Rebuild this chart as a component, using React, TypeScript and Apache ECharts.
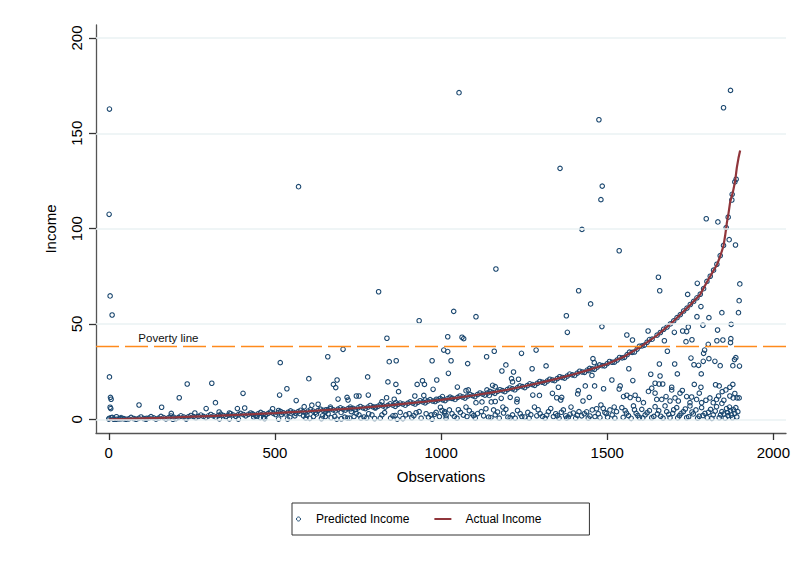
import React, { useEffect, useRef } from "react";
import * as echarts from "echarts";

// Sorted actual income by observation rank
const actualObs = [0, 50, 100, 150, 200, 250, 300, 350, 400, 450, 500, 550, 600, 650, 700, 750, 800, 850, 900, 950, 1000, 1050, 1100, 1150, 1200, 1250, 1300, 1350, 1400, 1450, 1500, 1550, 1600, 1650, 1700, 1750, 1780, 1800, 1815, 1830, 1840, 1850, 1855, 1860, 1865, 1870, 1878, 1885, 1890, 1895, 1900];
const actualIncome = [0, 0.2, 0.5, 0.7, 1.0, 1.35, 1.7, 2.05, 2.4, 2.8, 3.2, 3.7, 4.2, 4.75, 5.3, 5.9, 6.6, 7.4, 8.3, 9.2, 10.2, 11.4, 12.6, 14.0, 15.5, 17.3, 19.2, 21.3, 23.6, 26.2, 29.0, 32.8, 38.0, 44.0, 51.5, 60.0, 65.5, 72.0, 76.5, 81.0, 85.5, 91.0, 96.5, 103, 108, 114, 119, 125, 132, 137, 141];

// Predicted income that sits close to the actual value
const predictedNearActual: [number, number][] = [
  [0, 0.1], [15, 0.0], [30, 0.2], [45, 0.3], [60, 0.2], [75, 0.4], [90, 0.5], [105, 0.4], [120, 0.6], [135, 0.7],
  [150, 0.6], [165, 0.9], [180, 0.8], [195, 1.1], [210, 1.0], [225, 1.2], [240, 1.3], [255, 1.4], [270, 1.5], [285, 1.5],
  [300, 1.8], [315, 1.8], [330, 2.0], [345, 2.0], [360, 2.2], [375, 2.2], [390, 2.4], [405, 2.5], [420, 2.6], [435, 2.6],
  [450, 2.9], [465, 2.9], [480, 3.1], [495, 3.1], [510, 3.4], [525, 3.4], [540, 3.7], [555, 3.7], [570, 4.0], [585, 4.0],
  [600, 4.3], [615, 4.3], [630, 4.6], [645, 4.7], [660, 4.9], [675, 5.0], [690, 5.3], [705, 5.3], [720, 5.6], [735, 5.7],
  [750, 6.0], [765, 6.0], [780, 6.4], [795, 6.5], [810, 6.8], [825, 7.0], [840, 7.3], [855, 7.4], [870, 7.8], [885, 8.0],
  [900, 8.4], [915, 8.5], [930, 8.9], [945, 9.1], [960, 9.5], [975, 9.6], [990, 10.1], [1005, 10.2], [1020, 10.8], [1035, 11.0],
  [1050, 11.5], [1065, 11.7], [1080, 12.2], [1095, 12.4], [1110, 13.0], [1125, 13.2], [1140, 13.8], [1155, 14.1], [1170, 14.7], [1185, 15.0],
  [1200, 15.6], [1215, 16.0], [1230, 16.6], [1245, 17.1], [1260, 17.7], [1275, 18.2], [1290, 18.9], [1305, 19.4], [1320, 20.1], [1335, 20.6],
  [1350, 21.4], [1365, 21.9], [1380, 22.7], [1395, 23.3], [1410, 24.2], [1425, 24.8], [1440, 25.8], [1455, 26.4], [1470, 27.4], [1485, 28.1],
  [1500, 29.2], [1515, 29.9], [1530, 31.1], [1545, 32.2], [1560, 33.9], [1575, 35.1], [1590, 36.8], [1605, 38.5], [1620, 40.4], [1635, 42.0],
  [1650, 44.1], [1660, 45.5], [1670, 47.2], [1680, 48.4], [1690, 50.0], [1700, 51.6], [1710, 53.3], [1720, 54.9], [1730, 56.8], [1740, 58.3],
  [1750, 60.2], [1760, 61.8], [1770, 63.7], [1780, 65.6], [1790, 68.5], [1800, 72.3], [1810, 75.0], [1820, 78.2], [1830, 81.3], [1840, 85.8],
  [1850, 91.2], [1858, 100.5], [1864, 106], [1876, 118], [1884, 124.5], [1888, 125.9], [1875, 115],
];

// A second row of near-actual predictions, slightly above or below the line
const predictedNearActualB: [number, number][] = [
  [7, 0.8], [22, 0.0], [37, 0.9], [52, 0.0], [67, 1.0], [82, 0.0], [97, 1.2], [112, 0.0], [127, 1.4], [142, 0.1],
  [157, 1.5], [172, 0.2], [187, 1.7], [202, 0.4], [217, 1.8], [232, 0.6], [247, 2.0], [262, 0.8], [277, 2.2], [292, 0.9],
  [307, 2.5], [322, 1.1], [337, 2.7], [352, 1.4], [367, 2.9], [382, 1.6], [397, 3.1], [412, 1.8], [427, 3.3], [442, 2.0],
  [457, 3.6], [472, 2.3], [487, 3.8], [502, 2.5], [517, 4.1], [532, 2.8], [547, 4.4], [562, 3.1], [577, 4.7], [592, 3.4],
  [607, 5.0], [622, 3.7], [637, 5.3], [652, 4.0], [667, 5.6], [682, 4.4], [697, 6.0], [712, 4.8], [727, 6.4], [742, 5.1],
  [757, 6.7], [772, 5.6], [787, 7.2], [802, 5.9], [817, 7.6], [832, 6.4], [847, 8.1], [862, 6.8], [877, 8.5], [892, 7.4],
  [907, 9.1], [922, 8.0], [937, 9.7], [952, 8.6], [967, 10.3], [982, 9.3], [997, 10.9], [1012, 9.8], [1027, 11.6], [1042, 10.4],
  [1057, 12.2], [1072, 11.1], [1087, 13.0], [1102, 11.9], [1117, 13.8], [1132, 12.7], [1147, 14.6], [1162, 13.6], [1177, 15.5], [1192, 14.5],
  [1207, 16.4], [1222, 15.5], [1237, 17.5], [1252, 16.6], [1267, 18.6], [1282, 17.8], [1297, 19.8], [1312, 19.0], [1327, 21.0], [1342, 20.3],
  [1357, 22.3], [1372, 21.6], [1387, 23.7], [1402, 23.0], [1417, 25.2], [1432, 24.6], [1447, 26.7], [1462, 26.2], [1477, 28.5], [1492, 28.0],
  [1507, 30.3], [1522, 30.0], [1537, 32.4], [1552, 32.5], [1567, 35.2], [1582, 35.3], [1597, 38.3], [1612, 38.9], [1627, 41.8],
];

// Predicted income away from the actual value
const predictedUpper: [number, number][] = [
  [2, 162.7], [571, 122], [1, 107.5], [812, 66.9], [1054, 171.3], [1871, 172.5], [1850, 163.4], [1475, 157.1], [1358, 131.6], [1485, 122.3],
  [1481, 115.2], [1798, 105.2], [1833, 103.5], [1424, 99.6], [1867, 94.2], [1886, 91.4], [1536, 88.4], [1165, 78.8], [1654, 74.5], [1771, 71.3],
  [1899, 71], [1414, 67.4], [1658, 67.4], [1742, 65.5], [4, 64.7], [10, 54.7],
];

const predictedLow: [number, number][] = [
  [2, 22.2], [5, 11.5], [7, 10.5], [4, 6.3], [6, 5.6], [1, 0.5], [10, 1.0], [91, 7.5], [159, 6.3], [188, 3.1],
  [212, 11.3], [236, 18.5], [259, 3.3], [293, 5.6], [310, 18.9], [321, 8.7], [332, 3.8], [363, 3.3], [387, 5.6], [404, 13.6],
  [409, 5.9], [432, 2.8], [456, 0.9], [469, 0.4], [23, 1.3], [36, 0.3], [113, 0.5], [193, 0.0], [233, 0.1], [333, 0.2],
  [363, 0.2], [390, 0.1], [436, 1.2], [446, 1.5], [466, 1.0],
];

const predictedMid: [number, number][] = [
  [934, 51.7], [837, 42.5], [705, 36.7], [1008, 36.3], [516, 29.7], [659, 32.8], [844, 30.2], [865, 30.7], [973, 30.7], [602, 21.3],
  [687, 20.6], [676, 18.3], [683, 16.6], [779, 22.2], [840, 19.6], [864, 18.3], [872, 14.5], [944, 20.2], [928, 18.3], [950, 18.3],
  [987, 20.6], [976, 15.7], [536, 16.0], [514, 12.7], [564, 9.8], [588, 6.6], [611, 7.4], [630, 7.9], [717, 11.5], [720, 10.1],
  [690, 10.6], [745, 12.2], [753, 12.2], [781, 12.7], [836, 11.3], [859, 10.5], [864, 8.7], [921, 12.2], [948, 12.5], [952, 10.1],
  [986, 10.5], [998, 6.3], [1003, 4.6],
  [493, 5.5], [511, 4.6], [511, 0.1], [538, 0.1], [560, 1.8], [586, 1.8], [593, 0.6], [596, 2.1], [616, 1.4], [643, 1.8],
  [652, 1.4], [667, 6.4], [669, 0.8], [686, 0.1], [699, 3.6], [710, 1.1], [718, 0.6], [725, 0.6], [738, 1.4], [730, 4.0],
  [753, 2.3], [759, 0.6], [776, 0.6], [782, 2.9], [792, 2.3], [817, 0.6], [822, 2.3], [848, 0.6], [855, 1.8], [868, 0.1],
  [877, 3.6], [894, 2.3], [904, 2.9], [912, 0.8], [934, 4.0], [940, 0.6], [955, 2.9], [970, 2.3], [973, 0.1], [985, 3.6],
  [995, 1.4], [1010, 3.3], [1015, 0.6], [822, 9.2], [802, 6.4], [728, 5.5], [654, 5.0],
  [520, 2.5], [545, 1.0], [575, 3.0], [605, 0.5], [625, 2.8], [640, 0.4], [660, 2.9], [680, 1.5], [700, 0.3], [745, 3.1],
  [768, 1.2], [800, 0.4], [830, 3.5], [862, 2.0], [885, 0.4], [918, 1.9], [925, 3.4], [962, 1.0], [980, 2.6],
];

const predictedHigh: [number, number][] = [
  [1450, 60.5], [1038, 56.6], [1105, 53.8], [1377, 54.3], [1380, 45.6], [1484, 48.6], [1063, 43.0], [1068, 42.3], [1020, 43.3], [1020, 35.5],
  [1030, 30.7], [1080, 29.2], [1137, 32.8], [1160, 35.7], [1242, 34.6], [1286, 36.3], [1195, 28.5], [1316, 28.0], [1183, 25.3], [1218, 24.8],
  [1274, 26.5], [1022, 24.1], [1049, 16.9], [1212, 21.3], [1215, 19.6], [1233, 21.0], [1138, 15.4], [1155, 17.8], [1163, 17.1], [1276, 12.7],
  [1296, 12.5], [1335, 13.6], [1353, 16.8], [1413, 15.0], [1411, 13.3], [1434, 17.5], [1446, 11.5], [1427, 9.6], [1457, 31.8], [1461, 29.7],
  [1445, 25.5], [1454, 23.0], [1462, 17.5], [1489, 16.0], [1514, 20.6], [1536, 15.9], [1363, 11.5], [1360, 10.1], [1348, 11.3], [1229, 10.5],
  [1228, 9.1], [1208, 11.5], [1181, 11.0], [1163, 9.3], [1151, 9.1], [1145, 12.5], [1123, 9.1], [1105, 8.7], [1082, 15.4], [1075, 15.0],
  [1032, 11.0], [1004, 11.9],
  [1011, 4.0], [1025, 4.9], [1033, 2.9], [1048, 0.6], [1058, 3.6], [1075, 6.4], [1078, 1.4], [1093, 2.9], [1103, 0.6], [1121, 4.0],
  [1128, 1.8], [1143, 1.1], [1158, 4.9], [1163, 2.3], [1175, 0.6], [1186, 6.4], [1188, 3.3], [1201, 1.1], [1215, 2.3], [1223, 0.6],
  [1238, 2.9], [1243, 1.4], [1261, 3.6], [1265, 0.6], [1281, 6.4], [1288, 1.8], [1298, 2.9], [1313, 0.6], [1323, 4.0], [1338, 1.4],
  [1345, 2.9], [1355, 0.6], [1368, 4.9], [1375, 1.8], [1383, 1.1], [1391, 6.4], [1398, 3.3], [1405, 0.6], [1415, 4.0], [1423, 1.8],
  [1431, 2.9], [1443, 0.6], [1455, 4.9], [1463, 1.4], [1473, 2.9], [1481, 7.5], [1488, 5.7], [1493, 3.6], [1501, 1.1], [1508, 4.9],
  [1515, 2.3], [1523, 0.6], [1521, 6.4],
  [1015, 2.0], [1040, 1.5], [1052, 5.0], [1067, 2.2], [1085, 4.5], [1098, 1.9], [1110, 3.0], [1135, 5.5], [1150, 0.9], [1170, 3.8],
  [1195, 5.2], [1208, 0.8], [1230, 4.6], [1252, 1.2], [1270, 2.4], [1292, 5.0], [1305, 1.5], [1318, 2.2], [1330, 5.6], [1350, 1.9],
  [1362, 3.7], [1378, 0.6], [1388, 2.6], [1410, 2.1], [1438, 3.9], [1448, 1.7], [1468, 5.5], [1478, 0.9], [1497, 3.0], [1528, 4.0],
];

const predictedTop: [number, number][] = [
  [1897, 62.2], [1782, 59.1], [1895, 55.9], [1845, 55.9], [1770, 53.8], [1806, 53.3], [1873, 49.8], [1788, 49.3], [1744, 48.4], [1832, 46.8],
  [1727, 46.3], [1702, 45.6], [1739, 46.0], [1623, 46.3], [1559, 44.2], [1576, 41.6], [1672, 41.2], [1755, 41.7], [1737, 40.7], [1830, 41.2],
  [1848, 41.6], [1872, 42.3], [1871, 40.2], [1804, 39.3], [1681, 35.7], [1793, 36.3], [1790, 34.6], [1752, 32.1], [1806, 31.8], [1824, 30.4],
  [1887, 32.3], [1883, 31.3], [1789, 30.4], [1657, 29.0], [1703, 29.0], [1761, 28.6], [1775, 28.3], [1840, 28.1], [1878, 28.1], [1898, 27.9],
  [1565, 26.5], [1631, 23.6], [1711, 23.8], [1659, 22.7], [1783, 23.8], [1577, 20.3],
  [1644, 18.9], [1656, 18.5], [1667, 18.5], [1694, 16.8], [1762, 18.3], [1782, 16.8], [1826, 18.1], [1837, 17.5], [1846, 14.5], [1869, 16.8],
  [1878, 18.3], [1539, 17.5], [1549, 11.9], [1559, 12.6], [1569, 11.4], [1584, 12.6], [1594, 10.4], [1609, 8.7], [1624, 14.6], [1634, 16.3],
  [1644, 13.7], [1649, 10.4], [1664, 10.4], [1677, 11.9], [1689, 9.6], [1694, 15.4], [1704, 11.2], [1714, 9.6], [1719, 13.7], [1726, 15.1],
  [1739, 11.9], [1749, 8.7], [1754, 11.7], [1769, 10.4], [1777, 13.7], [1784, 8.7], [1797, 10.0], [1809, 11.2], [1819, 8.7], [1829, 10.4],
  [1835, 12.2], [1845, 8.3], [1851, 10.0], [1857, 15.4], [1869, 12.2], [1879, 11.2], [1884, 13.5], [1891, 11.2], [1897, 11.2],
  [1544, 6.1], [1554, 4.5], [1564, 1.9], [1579, 7.0], [1587, 3.1], [1597, 0.8], [1604, 5.2], [1614, 2.3], [1627, 4.5], [1634, 0.8],
  [1644, 6.6], [1651, 2.8], [1661, 1.6], [1674, 7.0], [1679, 4.0], [1689, 0.8], [1697, 3.1], [1709, 6.1], [1717, 1.9], [1729, 4.0],
  [1739, 0.8], [1749, 7.0], [1759, 2.8], [1767, 4.9], [1777, 1.6], [1784, 6.1], [1794, 3.1], [1801, 0.8], [1811, 5.2], [1819, 2.3],
  [1829, 6.6], [1837, 0.8], [1845, 4.0], [1851, 2.8], [1859, 5.6], [1864, 1.9], [1871, 4.5], [1877, 0.8], [1884, 3.1], [1887, 6.1],
  [1548, 1.0], [1558, 3.2], [1572, 0.5], [1582, 5.0], [1592, 2.0], [1607, 0.7], [1620, 3.4], [1640, 1.5], [1655, 4.5], [1668, 0.6],
  [1685, 2.6], [1700, 5.0], [1712, 0.7], [1722, 3.0], [1735, 5.4], [1745, 1.3], [1755, 3.8], [1772, 0.6], [1788, 2.0], [1805, 3.7],
  [1815, 0.5], [1825, 4.3], [1841, 2.3], [1855, 0.6], [1862, 3.5], [1868, 6.4], [1874, 2.2], [1880, 5.0], [1890, 1.2], [1893, 4.0],
];

const povertyLine = 38.1;
const xTicks = [0, 500, 1000, 1500, 2000];
const yTicks = [0, 50, 100, 150, 200];

const NAVY = "#1a476f";
const MAROON = "#90353b";
const FONT = "'Liberation Sans', Arial, Helvetica, sans-serif";

export default function App() {
  const ref = useRef<HTMLDivElement>(null);

  useEffect(() => {
    if (!ref.current) return;
    const chart = echarts.init(ref.current, undefined, { renderer: "svg" });

    const predicted = [
      ...predictedNearActual,
      ...predictedNearActualB,
      ...predictedUpper,
      ...predictedLow,
      ...predictedMid,
      ...predictedHigh,
      ...predictedTop,
    ];
    const actual = actualObs.map((o, i) => [o, actualIncome[i]]);
    const plain = (v: number) => String(v);

    const axisCommon = {
      type: "value" as const,
      nameLocation: "middle" as const,
      nameTextStyle: { fontSize: 15, color: "#000", fontFamily: FONT },
      axisLine: { show: true, onZero: false, lineStyle: { color: "#555", width: 1.3 } },
      splitLine: { show: false },
    };

    chart.setOption({
      animation: false,
      backgroundColor: "#fff",
      textStyle: { fontFamily: FONT },
      grid: { left: 96, right: 14, top: 25, bottom: 148 },
      xAxis: {
        ...axisCommon,
        min: -38.5,
        max: 2038,
        name: "Observations",
        nameGap: 36,
        axisTick: { show: true, customValues: xTicks, length: 7, lineStyle: { color: "#333", width: 1.3 } },
        axisLabel: { customValues: xTicks, formatter: plain, fontSize: 15, color: "#000", margin: 12, fontFamily: FONT },
      },
      yAxis: {
        ...axisCommon,
        min: -7.2,
        max: 206.8,
        name: "Income",
        nameGap: 38,
        axisTick: { show: true, customValues: yTicks, length: 7, lineStyle: { color: "#333", width: 1.3 } },
        axisLabel: { customValues: yTicks, formatter: plain, fontSize: 15, color: "#000", margin: 12, rotate: 90, fontFamily: FONT },
      },
      legend: {
        left: 292,
        top: 503,
        orient: "horizontal",
        itemWidth: 17,
        itemHeight: 4,
        itemGap: 24,
        padding: [10, 48, 10, 4],
        borderColor: "#333",
        borderWidth: 1,
        borderRadius: 0,
        textStyle: { fontSize: 12, color: "#000", fontFamily: FONT },
        data: [
          {
            name: "Predicted Income",
            icon: "circle",
            itemStyle: { color: "rgba(0,0,0,0)", borderColor: NAVY, borderWidth: 1 },
            textStyle: { padding: [0, 0, 0, 4] },
          },
          {
            name: "Actual Income",
            itemStyle: { color: "rgba(0,0,0,0)", borderColor: "rgba(0,0,0,0)", borderWidth: 0, opacity: 0 },
            lineStyle: { color: MAROON, width: 2 },
            textStyle: { padding: [0, 0, 0, 9] },
          },
        ],
      },
      series: [
        {
          name: "gridlines",
          type: "line",
          data: [],
          silent: true,
          z: 1,
          markLine: {
            silent: true,
            symbol: ["none", "none"],
            label: { show: false },
            lineStyle: { color: "#eaf2f3", width: 1.5, type: "solid" },
            data: yTicks.map((v) => ({ yAxis: v })),
          },
        },
        {
          name: "Predicted Income",
          type: "scatter",
          data: predicted,
          symbol: "circle",
          symbolSize: 4.5,
          symbolKeepAspect: true,
          z: 2,
          itemStyle: { color: "rgba(0,0,0,0)", borderColor: NAVY, borderWidth: 1.1, opacity: 1 },
        },
        {
          name: "Actual Income",
          type: "line",
          data: actual,
          symbol: "none",
          showSymbol: false,
          z: 3,
          lineStyle: { color: MAROON, width: 2.2 },
          itemStyle: { color: MAROON },
          markLine: {
            silent: true,
            symbol: ["none", "none"],
            label: { show: false },
            lineStyle: { color: "#ff8a1c", width: 1.4, type: [23, 6] },
            data: [{ yAxis: povertyLine }],
          },
          markPoint: {
            silent: true,
            symbol: "circle",
            symbolSize: 0,
            data: [
              {
                coord: [89, povertyLine],
                label: {
                  show: true,
                  formatter: "Poverty line",
                  position: [0, -15],
                  align: "left",
                  verticalAlign: "top",
                  fontSize: 11.5,
                  color: "#111",
                  fontFamily: FONT,
                },
              },
            ],
          },
        },
      ],
    });

    return () => chart.dispose();
  }, []);

  return (
    <div
      ref={ref}
      style={{ position: "fixed", left: 0, top: 0, width: 800, height: 581, background: "#fff" }}
    />
  );
}
